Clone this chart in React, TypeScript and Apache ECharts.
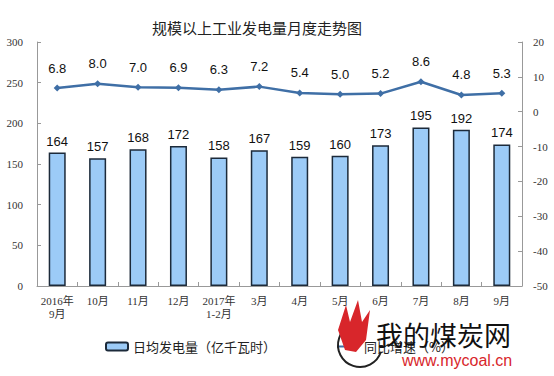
import React, { useEffect, useRef } from "react";
import * as echarts from "echarts";

const categories = ["2016年\n9月", "10月", "11月", "12月", "2017年\n1-2月", "3月", "4月", "5月", "6月", "7月", "8月", "9月"];
const dailyOutput = [164, 157, 168, 172, 158, 167, 159, 160, 173, 195, 192, 174];
const growthRate = [6.8, 8.0, 7.0, 6.9, 6.3, 7.2, 5.4, 5.0, 5.2, 8.6, 4.8, 5.3];
const barName = "日均发电量（亿千瓦时）";
const lineName = "同比增速（%）";
const titleText = "规模以上工业发电量月度走势图";

export default function App() {
  const ref = useRef<HTMLDivElement>(null);
  useEffect(() => {
    document.body.style.margin = "0";
    const chart = echarts.init(ref.current!, null, { renderer: "svg" });
    const axisFont = "'Liberation Serif', 'Noto Sans CJK SC', serif";
    const numFont = "'Liberation Sans', Arial, sans-serif";
    chart.setOption({
      animation: false,
      backgroundColor: "#ffffff",
      title: {
        text: titleText,
        left: 252,
        textAlign: "center",
        top: 15,
        textStyle: { fontFamily: "'Noto Sans CJK SC', sans-serif", fontSize: 15, fontWeight: "normal", color: "#222" },
      },
      legend: {
        left: 100,
        top: 335,
        itemWidth: 22,
        itemHeight: 8,
        itemGap: 60,
        textStyle: { fontFamily: "'Noto Sans CJK SC', sans-serif", fontSize: 13, color: "#222" },
        data: [
          { name: barName, icon: "roundRect" },
          { name: lineName },
        ],
      },
      grid: { left: 37, right: 32, top: 42, bottom: 90 },
      xAxis: {
        type: "category",
        data: categories,
        boundaryGap: true,
        axisLine: { lineStyle: { color: "#999", width: 1 } },
        axisTick: { show: true, inside: true, length: 4, lineStyle: { color: "#999" } },
        axisLabel: { fontFamily: axisFont, fontSize: 11, color: "#333", margin: 8, lineHeight: 13, interval: 0 },
      },
      yAxis: [
        {
          type: "value",
          min: 0,
          max: 300,
          interval: 50,
          axisLine: { show: true, lineStyle: { color: "#999" } },
          axisTick: { show: true, inside: true, length: 4, lineStyle: { color: "#999" } },
          splitLine: { show: false },
          axisLabel: { fontFamily: axisFont, fontSize: 11, color: "#333", margin: 14 },
        },
        {
          type: "value",
          min: -50,
          max: 20,
          interval: 10,
          position: "right",
          axisLine: { show: true, lineStyle: { color: "#999" } },
          axisTick: { show: true, inside: true, length: 4, lineStyle: { color: "#999" } },
          splitLine: { show: false },
          axisLabel: { fontFamily: axisFont, fontSize: 11, color: "#333", margin: 11 },
        },
      ],
      series: [
        {
          name: barName,
          type: "bar",
          data: dailyOutput,
          barWidth: 17,
          itemStyle: { color: "#9ccbf7", borderColor: "#1c2a3a", borderWidth: 1.5 },
          label: { show: true, position: "top", distance: 5, fontFamily: numFont, fontSize: 13, color: "#111" },
        },
        {
          name: lineName,
          type: "line",
          yAxisIndex: 1,
          data: growthRate,
          symbol: "diamond",
          symbolSize: 7,
          lineStyle: { color: "#3f6fa6", width: 2.5 },
          itemStyle: { color: "#3f6fa6" },
          label: {
            show: true,
            position: "top",
            distance: 10,
            fontFamily: numFont,
            fontSize: 13,
            color: "#111",
            formatter: (p: any) => Number(p.value).toFixed(1),
          },
        },
      ],
      graphic: [
        {
          type: "arc",
          shape: { cx: 360, cy: 345, r: 22, startAngle: Math.PI * 0.1, endAngle: Math.PI * 1.6 },
          style: { stroke: "#222", lineWidth: 2, fill: "none" },
          z: 100,
        },
        {
          type: "polygon",
          shape: { points: [[345, 350], [338, 330], [346, 305], [350, 322], [358, 300], [362, 322], [370, 310], [366, 340], [356, 352]] },
          style: { fill: "#d8262b" },
          z: 101,
        },
        {
          type: "text",
          left: 376,
          top: 321,
          style: { text: "我的煤炭网", fontFamily: "'Noto Sans CJK SC', sans-serif", fontSize: 27, fill: "#111" },
          z: 102,
        },
        {
          type: "text",
          left: 402,
          top: 352,
          style: { text: "www.mycoal.cn", fontFamily: numFont, fontSize: 16, fill: "#d8262b" },
          z: 102,
        },
      ],
    });
    return () => chart.dispose();
  }, []);
  return <div ref={ref} style={{ width: 554, height: 376 }} />;
}
